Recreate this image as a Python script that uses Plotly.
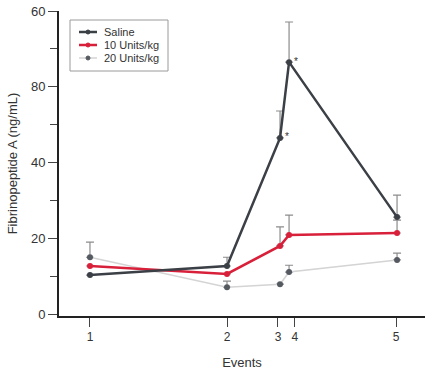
import plotly.graph_objects as go

# Event timing (relative position on the time axis) and labels
event_labels = ["1", "2", "3", "4", "5"]
event_time = [1.0, 2.0, 2.387, 2.453, 3.241]
tick_time = [1.0, 2.0, 2.372, 2.496, 3.234]

# Fibrinopeptide A values (ng/mL) and upper SE
saline = [10.3, 12.7, 46.5, 66.5, 25.6]
saline_err = [0, 2.3, 7.1, 10.6, 5.8]
u10 = [12.7, 10.6, 18.0, 20.9, 21.4]
u10_err = [0, 0, 5.0, 5.2, 3.4]
u20 = [15.0, 7.1, 7.9, 11.1, 14.3]
u20_err = [4.0, 1.6, 0, 1.8, 1.8]

series_names = ["Saline", "10 Units/kg", "20 Units/kg"]

y_tickvals = [0, 20, 40, 60, 80]
y_ticktext = ["0", "20", "40", "80", "60"]

err_color = "#8c8c8c"
txt = "#333333"
c_sal = "#3b3f46"
c_10 = "#d8203a"
c_20_line = "#d4d4d4"
c_20_mk = "#555a60"

W, H = 431, 371
ML, MR, MT, MB = 59, 6, 11, 55
PW, PH = W - ML - MR, H - MT - MB


def px(x):
    return (x - ML) / PW


def py(y):
    return (H - MB - y) / PH


fig = go.Figure()

fig.add_trace(go.Scatter(
    x=event_time, y=u20, name=series_names[2], mode="lines+markers",
    line=dict(color=c_20_line, width=1.5),
    marker=dict(color=c_20_mk, size=6),
    error_y=dict(type="data", symmetric=False, array=u20_err,
                 arrayminus=[0] * 5, color=err_color, thickness=1.2, width=4),
))
fig.add_trace(go.Scatter(
    x=event_time, y=u10, name=series_names[1], mode="lines+markers",
    line=dict(color=c_10, width=2.5),
    marker=dict(color=c_10, size=6),
    error_y=dict(type="data", symmetric=False, array=u10_err,
                 arrayminus=[0] * 5, color=err_color, thickness=1.2, width=4),
))
fig.add_trace(go.Scatter(
    x=event_time, y=saline, name=series_names[0], mode="lines+markers",
    line=dict(color=c_sal, width=2.5),
    marker=dict(color=c_sal, size=6),
    error_y=dict(type="data", symmetric=False, array=saline_err,
                 arrayminus=[0] * 5, color=err_color, thickness=1.2, width=4),
))

# significance markers
for i in (2, 3):
    fig.add_annotation(x=event_time[i], y=saline[i], text="*", showarrow=False,
                       xshift=7, yshift=1, font=dict(size=10, color=txt))

# compact legend box (drawn in paper coordinates)
shapes = [dict(type="rect", xref="paper", yref="paper",
               x0=px(70), x1=px(168), y0=py(71), y1=py(20),
               line=dict(color="#9a9a9a", width=1), fillcolor="white",
               layer="above")]
leg_rows = [32, 45, 58]
leg_line = [(c_sal, 2.5), (c_10, 2.5), (c_20_line, 1.5)]
leg_mk = [c_sal, c_10, c_20_mk]
for row, name, (lc, lw), mc in zip(leg_rows, series_names, leg_line, leg_mk):
    shapes.append(dict(type="line", xref="paper", yref="paper",
                       x0=px(79), x1=px(97), y0=py(row), y1=py(row),
                       line=dict(color=lc, width=lw), layer="above"))
    shapes.append(dict(type="circle", xref="paper", yref="paper",
                       x0=px(86), x1=px(90), y0=py(row + 2), y1=py(row - 2),
                       line=dict(color=mc, width=1), fillcolor=mc,
                       layer="above"))
    fig.add_annotation(xref="paper", yref="paper", x=px(102), y=py(row),
                       xanchor="left", yanchor="middle", text=name,
                       showarrow=False, font=dict(size=11, color=txt))

fig.update_layout(
    template="none",
    width=W, height=H,
    margin=dict(l=ML, r=MR, t=MT, b=MB, pad=0),
    paper_bgcolor="white", plot_bgcolor="white",
    font=dict(family="Liberation Sans, Arial, sans-serif", color=txt, size=12),
    showlegend=False,
    shapes=shapes,
    xaxis=dict(range=[0.774, 3.445], tickmode="array", tickvals=tick_time,
               ticktext=event_labels, ticks="outside", ticklen=9,
               tickcolor="#444", showline=True, linecolor="#222", linewidth=2,
               showgrid=False, zeroline=False, automargin=False,
               tickfont=dict(size=12, color=txt),
               title=dict(text="Events", font=dict(size=13, color=txt), standoff=14)),
    yaxis=dict(range=[-0.5, 80], tickmode="array", tickvals=y_tickvals,
               ticktext=y_ticktext, ticks="outside", ticklen=9,
               tickcolor="#444", showline=True, linecolor="#222", linewidth=2,
               showgrid=False, zeroline=False, automargin=False,
               tickfont=dict(size=13, color=txt),
               minor=dict(tickmode="array", tickvals=[10, 30, 50, 70],
                          ticks="outside", ticklen=7, tickcolor="#444"),
               title=dict(text="Fibrinopeptide A (ng/mL)",
                          font=dict(size=13, color=txt), standoff=10)),
)

fig.write_html("out.html", config={"displayModeBar": False},
               post_script="document.body.style.margin='0';")
